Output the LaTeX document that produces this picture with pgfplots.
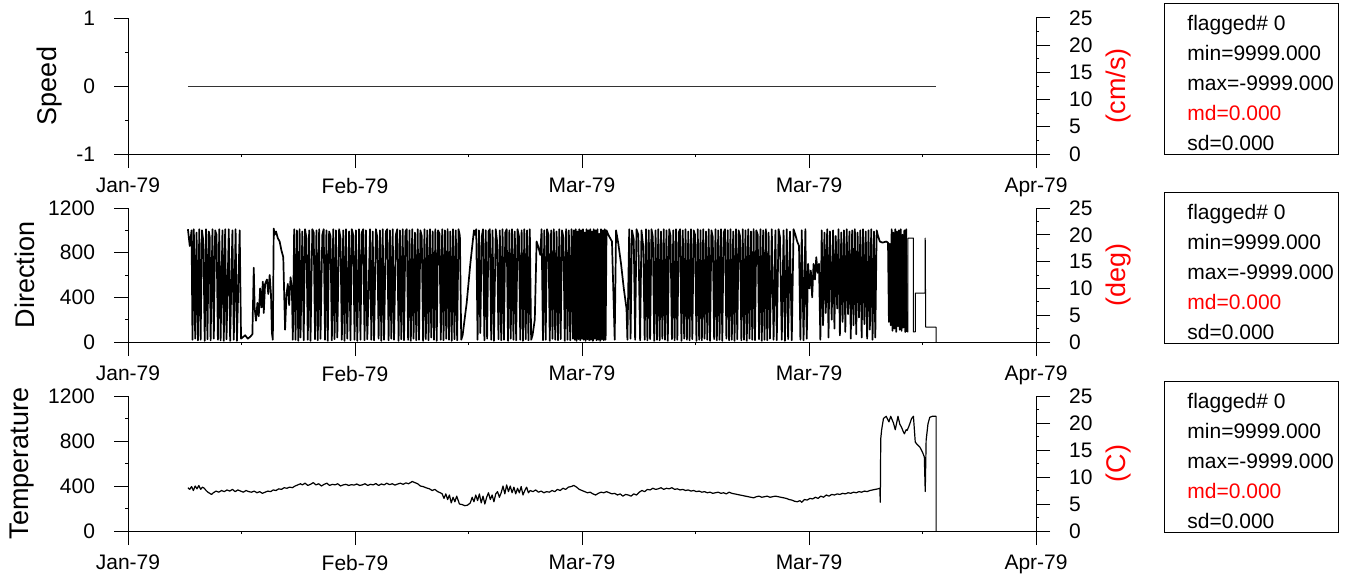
\documentclass[border=0pt]{standalone}
\usepackage{pgfplots}
\pgfplotsset{compat=1.18}
\usepackage{fontspec}
\setmainfont{Liberation Sans}

\pgfplotsset{
  panel/.style={
    scale only axis, width=454pt,
    xmin=0, xmax=100,
    axis line style={-, line width=0.5pt},
    tick style={line width=0.5pt, black},
    tick align=outside,
    major tick length=7pt, minor tick length=1.5pt,
    ticklabel style={font=\fontsize{10.5}{12}\selectfont},
    label style={font=\fontsize{13.5}{16}\selectfont},
  },
  leftax/.style={panel,
    axis x line*=bottom, axis y line*=left,
    xtick={0,25,50,75,100},
    xticklabels={Jan-79,Feb-79,Mar-79,Mar-79,Apr-79},
    minor x tick num=1, minor y tick num=1,
    yticklabel style={xshift=-6pt},
    xticklabel style={yshift=-1.5pt},
  },
  rightax/.style={panel,
    axis x line=none, axis y line*=right,
    ymin=0, ymax=25, ytick={0,5,10,15,20,25},
    yticklabels={0,5,10,15,20,25},
    minor y tick num=1,
    yticklabel style={xshift=6pt},
    ylabel style={red},
  },
  dataline/.style={black, line width=0.5pt, mark=none, line join=round},
}

% stats box, #1 = top edge
\newcommand\statbox[1]{%
  \begin{scope}[yshift=#1]
    \draw[line width=0.5pt] (582pt,0pt) rectangle (669pt,-75.5pt);
    \begin{scope}[every node/.style={anchor=base west, inner sep=0pt, font=\fontsize{10.5}{12}\selectfont}]
      \node at (593.5pt,-13.5pt) {flagged\# 0};
      \node at (593.5pt,-28.5pt) {min=9999.000};
      \node at (593.5pt,-43.5pt) {max=-9999.000};
      \node[red] at (593.5pt,-58.5pt) {md=0.000};
      \node at (593.5pt,-73.5pt) {sd=0.000};
    \end{scope}
  \end{scope}}

\begin{document}
\begin{tikzpicture}
\useasboundingbox (0pt,0pt) rectangle (676pt,-289pt);

%% ---------------- Speed ----------------
\begin{axis}[leftax, at={(64pt,-77pt)}, height=68pt,
    ymin=-1, ymax=1, ytick={-1,0,1}, yticklabels={-1,0,1},
    ylabel={Speed}]
  \addplot[dataline, black!80] coordinates {(6.6,0) (89.0,0)};
\end{axis}
\begin{axis}[rightax, at={(64pt,-77pt)}, height=68pt, ylabel={(cm/s)}]
\end{axis}
\statbox{-1.5pt}

%% ---------------- Direction ----------------
\begin{axis}[leftax, at={(64pt,-171pt)}, height=67pt,
    ymin=0, ymax=1200, ytick={0,400,800,1200}, yticklabels={0,400,800,1200},
    ylabel={Direction}]
  \addplot[dataline, line width=0.85pt] coordinates {
  (6.6,1010)(6.8,860)(7.0,1000)(7.1,20)(7.25,1010)(7.4,30)(7.55,980)(7.7,15)(7.85,1010)(8.0,20)(8.15,1000)(8.3,900)(8.45,10)(8.6,1010)(8.75,25)(8.9,990)(9.0,940)(9.1,15)(9.3,1010)(9.45,30)(9.6,1000)(9.75,960)(9.9,20)(10.05,1010)(10.2,15)(10.4,1000)(10.55,10)(10.7,1010)(10.85,25)(11.1,1010)(11.25,10)(11.5,1000)(11.65,20)(11.85,1010)(12.0,10)(12.3,1000)(12.45,30)
  (12.6,40)(12.9,60)(13.2,30)(13.5,50)(13.7,70)
  (13.85,665)(13.95,300)(14.1,190)(14.25,350)(14.4,230)(14.55,480)(14.7,310)(14.85,540)(14.95,260)(15.1,520)(15.3,560)(15.45,430)(15.6,600)(15.75,420)(15.85,80)(15.95,20)(16.05,1016)(16.15,960)(16.3,990)(16.5,930)(16.7,900)(16.9,820)(17.1,760)(17.3,110)(17.45,420)(17.6,520)(17.75,330)(17.9,580)(18.05,470)(18.15,20)
  (18.3,1010)(18.45,20)(18.6,1000)(18.75,10)(18.9,1010)(19.0,40)(19.2,990)(19.35,15)(19.5,1010)(19.65,930)(19.8,20)(19.95,1000)(20.1,10)(20.3,1010)(20.45,980)(20.6,25)(20.75,1000)(20.9,15)(21.05,1010)(21.2,30)(21.4,960)(21.55,1010)(21.7,20)(21.85,1000)(22.0,10)(22.15,990)(22.3,950)(22.45,15)(22.6,1010)(22.75,25)(22.9,1000)(23.05,40)(23.25,1010)(23.4,930)(23.55,20)(23.7,1000)(23.85,10)(24.0,1010)(24.15,30)(24.35,990)(24.5,15)(24.65,1010)(24.8,960)(24.95,20)(25.1,1000)(25.25,10)(25.45,1010)(25.6,20)(25.75,980)(25.9,1010)(26.05,15)(26.2,1000)(26.35,25)(26.5,450)(26.65,1010)(26.8,20)(26.95,990)(27.1,15)(27.3,1010)(27.45,940)(27.6,30)(27.75,1000)(27.9,10)(28.05,1010)(28.2,20)(28.4,990)(28.55,1010)(28.7,15)(28.85,1000)(29.0,30)(29.15,1010)(29.3,20)(29.5,960)(29.65,1010)(29.8,10)
  (29.95,1000)(30.1,25)(30.25,1010)(30.4,15)(30.55,990)(30.7,1010)(30.85,20)(31.0,1000)(31.15,10)(31.3,1010)(31.45,30)(31.6,980)(31.75,15)(31.9,1010)(32.05,20)(32.2,1000)(32.35,950)(32.5,10)(32.65,1010)(32.8,25)(32.95,1000)(33.1,15)(33.25,1010)(33.4,40)(33.55,990)(33.7,20)(33.85,1010)(34.0,10)(34.15,1000)(34.3,970)(34.45,20)(34.6,1010)(34.75,15)(34.9,1000)(35.05,30)(35.2,1010)(35.35,20)(35.5,990)(35.65,10)(35.8,1010)(35.95,25)(36.1,1000)(36.25,15)(36.4,1010)(36.55,950)(36.7,20)(36.85,60)
  (37.3,350)(37.7,700)(38.1,1000)(38.2,960)
  (38.35,1010)(38.5,20)(38.65,1000)(38.8,80)(38.95,940)(39.1,1010)(39.25,15)(39.4,1000)(39.55,30)(39.7,990)(39.85,1010)(40.0,20)(40.15,1000)(40.3,10)(40.5,1010)(40.65,900)(40.8,25)(40.95,1000)(41.1,15)(41.25,1010)(41.4,20)(41.55,980)(41.7,1010)(41.85,10)(42.0,1000)(42.15,30)(42.3,1010)(42.45,20)(42.6,990)(42.75,15)(42.9,1010)(43.05,950)(43.2,20)(43.35,1000)(43.5,10)(43.65,1010)(43.8,25)(43.95,1000)(44.1,15)(44.25,1010)(44.4,20)(44.55,60)
  (44.8,200)(45.0,900)(45.2,850)(45.4,780)
  (45.55,1010)(45.7,15)(45.85,1000)(46.0,20)(46.15,1010)(46.3,960)(46.45,10)(46.6,1000)(46.75,30)(46.9,1010)(47.05,20)(47.2,990)(47.35,15)(47.5,1010)(47.65,25)(47.8,1000)(47.95,940)(48.1,10)(48.25,1010)(48.4,20)(48.55,1000)(48.7,15)(48.85,1010)(49.0,30)
  (49.1,1000)(49.2,20)(49.3,1010)(49.4,10)(49.5,990)(49.6,25)(49.7,1010)(49.8,15)(49.9,1000)(50.0,30)(50.1,1010)(50.2,20)(50.3,980)(50.4,10)(50.5,1010)(50.6,25)(50.7,1000)(50.8,15)(50.9,1010)(51.0,20)(51.1,990)(51.2,10)(51.3,1010)(51.4,30)(51.5,1000)(51.6,15)(51.7,1010)(51.8,20)(51.9,970)(52.0,10)(52.1,1010)(52.2,25)(52.3,1000)(52.4,15)(52.5,1010)(52.6,20)(52.7,1000)
  (52.9,960)(53.3,900)(53.6,20)(53.75,1000)(54.0,880)(54.3,700)(54.6,480)(54.9,300)(55.0,20)
  (55.2,1010)(55.35,30)(55.5,1000)(55.7,920)(55.85,20)(56.0,1010)(56.2,960)(56.4,15)(56.55,1000)(56.75,850)(56.9,20)
  (57.05,1010)(57.2,15)(57.35,1000)(57.5,25)(57.65,1010)(57.8,940)(57.95,10)(58.1,1000)(58.25,20)(58.4,1010)(58.55,15)(58.7,990)(58.85,30)(59.0,1010)(59.15,20)(59.3,1000)(59.45,10)(59.6,1010)(59.75,950)(59.9,25)(60.05,1000)(60.2,15)(60.35,1010)(60.5,20)(60.65,980)(60.8,1010)(60.95,10)(61.1,1000)(61.25,30)(61.4,1010)(61.55,20)(61.7,990)(61.85,15)(62.0,1010)(62.15,25)(62.3,1000)(62.45,960)(62.6,10)(62.75,1010)(62.9,20)(63.05,1000)(63.2,15)(63.35,1010)(63.5,30)(63.65,990)(63.8,20)(63.95,1010)(64.1,10)(64.25,1000)(64.4,940)(64.55,25)(64.7,1010)(64.85,15)(65.0,1000)(65.15,20)(65.3,1010)(65.45,10)(65.6,980)(65.75,1010)(65.9,30)(66.05,1000)(66.2,15)(66.35,1010)(66.5,20)(66.65,990)(66.8,10)(66.95,1010)(67.1,25)(67.25,1000)(67.4,950)(67.55,15)(67.7,1010)(67.85,20)(68.0,1000)(68.15,10)(68.3,1010)(68.45,30)(68.6,990)(68.75,20)(68.9,1010)(69.05,15)(69.2,1000)(69.35,960)(69.5,25)(69.65,1010)(69.8,10)(69.95,1000)(70.1,20)(70.25,1010)(70.4,15)(70.55,980)(70.7,30)
  (70.9,1010)(71.1,20)(71.3,1000)(71.45,15)(71.65,1010)(71.8,940)(72.0,20)(72.2,1000)(72.35,10)(72.55,1010)(72.7,25)(72.9,990)(73.1,15)(73.3,1010)(73.5,960)(73.7,900)(73.9,860)(74.05,20)(74.2,1000)(74.4,15)(74.6,1010)(74.75,30)
  (74.9,700)(75.05,480)(75.2,640)(75.35,400)(75.5,700)(75.65,560)(75.8,760)(75.95,620)(76.1,700)(76.25,20)
  (76.4,1000)(76.55,150)(76.7,980)(76.85,260)(77.0,1010)(77.15,40)(77.3,990)(77.5,200)(77.65,1000)(77.8,120)(77.95,950)(78.1,300)(78.25,1010)(78.4,60)(78.55,980)(78.7,180)(78.85,1000)(79.0,90)(79.15,1010)(79.3,250)(79.45,990)(79.6,30)(79.75,1000)(79.9,150)(80.05,1010)(80.2,70)(80.35,980)(80.5,220)(80.65,1000)(80.8,40)(80.95,1010)(81.1,160)(81.25,990)(81.4,30)(81.55,1000)(81.7,110)(81.85,1010)(82.0,20)(82.15,990)(82.3,40)(82.45,1000)(82.6,950)
  (82.8,900)(83.1,890)(83.5,900)(83.7,890)(83.8,180)(83.9,880)
  (84.0,150)(84.1,1010)(84.2,100)(84.3,980)(84.4,120)(84.5,1010)(84.6,90)(84.7,990)(84.8,140)(84.9,1000)(85.0,110)(85.1,1010)(85.2,100)(85.3,960)(85.4,130)(85.5,1000)(85.6,90)(85.7,1010)(85.8,90)
  };
  \addplot[dataline] coordinates {
  (85.8,90)(85.9,90)(85.9,930)(86.5,930)(86.5,90)(86.7,90)(86.7,438)(87.8,438)(87.8,930)(87.85,133)(89.0,133)(89.0,0)
  };
\end{axis}
\begin{axis}[rightax, at={(64pt,-171pt)}, height=67pt, ylabel={(deg)}]
\end{axis}
\statbox{-96pt}

%% ---------------- Temperature ----------------
\begin{axis}[leftax, at={(64pt,-265.5pt)}, height=67.5pt,
    ymin=0, ymax=1200, ytick={0,400,800,1200}, yticklabels={0,400,800,1200},
    ylabel={Temperature}]
  \addplot[dataline, line width=0.6pt] coordinates {
  (6.6,385)(6.8,370)(7.0,395)(7.2,360)(7.4,400)(7.6,375)(7.8,405)(8.0,370)(8.2,390)(8.4,380)(8.6,360)(8.8,345)(9.0,335)(9.2,325)(9.4,340)(9.7,355)(10.0,345)(10.3,360)(10.6,350)(10.9,365)(11.2,355)(11.5,370)(11.8,350)(12.1,365)(12.4,355)(12.7,345)(13.0,360)(13.3,350)(13.6,345)(13.9,355)(14.2,340)(14.5,350)(14.8,335)(15.1,345)(15.4,355)(15.7,350)(16.0,365)(16.3,360)(16.6,375)(16.9,370)(17.2,385)(17.5,380)(17.8,390)(18.1,385)(18.4,400)(18.7,410)(19.0,420)(19.2,410)(19.5,425)(19.8,405)(20.1,415)(20.4,430)(20.7,410)(21.0,420)(21.3,400)(21.6,415)(21.9,425)(22.2,405)(22.5,415)(22.8,410)(23.1,420)(23.4,400)(23.7,410)(24.0,415)(24.3,405)(24.6,412)(24.9,408)(25.2,418)(25.5,405)(25.8,410)(26.1,420)(26.4,405)(26.7,415)(27.0,410)(27.3,422)(27.6,405)(27.9,418)(28.2,410)(28.5,425)(28.8,412)(29.1,420)(29.4,408)(29.7,418)(30.0,425)
  (30.3,415)(30.6,428)(30.9,420)(31.3,440)(31.6,430)(31.9,420)(32.2,400)(32.5,395)(32.9,382)(33.2,375)(33.5,360)(33.8,370)(34.1,350)(34.4,340)(34.6,330)(34.8,290)(35.0,330)(35.2,280)(35.4,320)(35.6,250)(35.8,300)(36.0,260)(36.2,310)(36.5,240)(36.8,235)(37.1,225)(37.4,230)(37.7,250)
  (37.9,300)(38.1,260)(38.3,320)(38.5,270)(38.7,330)(38.9,250)(39.1,310)(39.3,240)(39.5,300)(39.7,340)(39.9,280)(40.1,320)(40.3,260)(40.5,330)(40.7,350)(40.9,300)(41.1,340)(41.3,400)(41.5,330)(41.7,410)(41.9,350)(42.1,400)(42.3,340)(42.5,390)(42.7,330)(42.9,380)(43.1,340)(43.3,395)(43.5,320)(43.7,360)(43.9,390)(44.1,340)
  (44.3,360)(44.6,350)(44.9,365)(45.2,345)(45.5,355)(45.8,340)(46.1,350)(46.4,345)(46.7,360)(47.0,350)(47.3,370)(47.6,360)(47.9,380)(48.2,370)(48.5,390)(48.8,395)(49.1,405)(49.4,390)(49.7,370)(50.0,360)(50.3,350)(50.6,340)(50.9,345)(51.2,330)(51.5,320)(51.8,335)(52.1,345)(52.4,340)(52.7,350)(53.0,340)(53.3,330)(53.6,335)(53.9,320)(54.2,330)(54.5,310)(54.8,325)(55.1,320)(55.4,310)(55.7,330)(56.0,320)(56.3,345)(56.6,360)(56.9,350)(57.2,370)(57.5,365)(57.8,380)(58.1,370)(58.4,375)(58.7,385)(59.0,370)(59.3,380)(59.6,375)(59.9,385)(60.2,370)(60.5,375)(60.8,365)(61.1,370)(61.4,360)(61.7,365)(62.0,355)(62.3,360)(62.6,350)(62.9,355)(63.2,345)(63.5,350)(63.8,340)(64.1,345)(64.4,335)(64.7,340)(65.0,345)(65.3,335)(65.6,340)(65.9,330)(66.2,345)(66.5,335)(66.8,330)(67.1,325)(67.4,320)(67.7,315)(68.0,310)(68.3,305)(68.6,300)(68.9,295)(69.2,305)(69.5,310)(69.8,300)(70.1,305)(70.4,310)(70.7,300)(71.0,305)(71.3,310)(71.6,305)(71.9,300)(72.2,295)(72.5,290)(72.8,280)(73.1,275)(73.4,265)(73.7,260)(74.0,270)(74.2,255)(74.5,280)(74.8,275)(75.1,290)(75.4,285)(75.7,300)(76.0,290)(76.3,310)(76.6,300)(76.9,320)(77.2,310)(77.5,325)(77.8,320)(78.1,330)(78.4,325)(78.7,335)(79.0,330)(79.3,340)(79.6,335)(79.9,345)(80.2,340)(80.5,350)(80.8,345)(81.1,355)(81.4,350)(81.7,360)(82.0,365)(82.3,370)(82.6,375)(82.8,380)
  (82.85,255)(82.9,820)(83.0,900)(83.2,1000)(83.5,1020)(83.8,970)(84.0,1020)(84.3,960)(84.5,900)(84.7,980)(84.8,1020)(85.0,950)(85.2,920)(85.4,880)(85.5,864)(85.7,900)(85.8,894)(86.0,930)(86.3,1000)(86.5,1020)(86.7,791)(86.9,770)(87.2,747)(87.5,700)(87.7,659)(87.8,352)(87.9,806)(88.1,952)(88.3,1011)(88.6,1020)(89.0,1020)(89.0,0)
  };
\end{axis}
\begin{axis}[rightax, at={(64pt,-265.5pt)}, height=67.5pt, ylabel={(C)}]
\end{axis}
\statbox{-190.5pt}

\end{tikzpicture}
\end{document}
